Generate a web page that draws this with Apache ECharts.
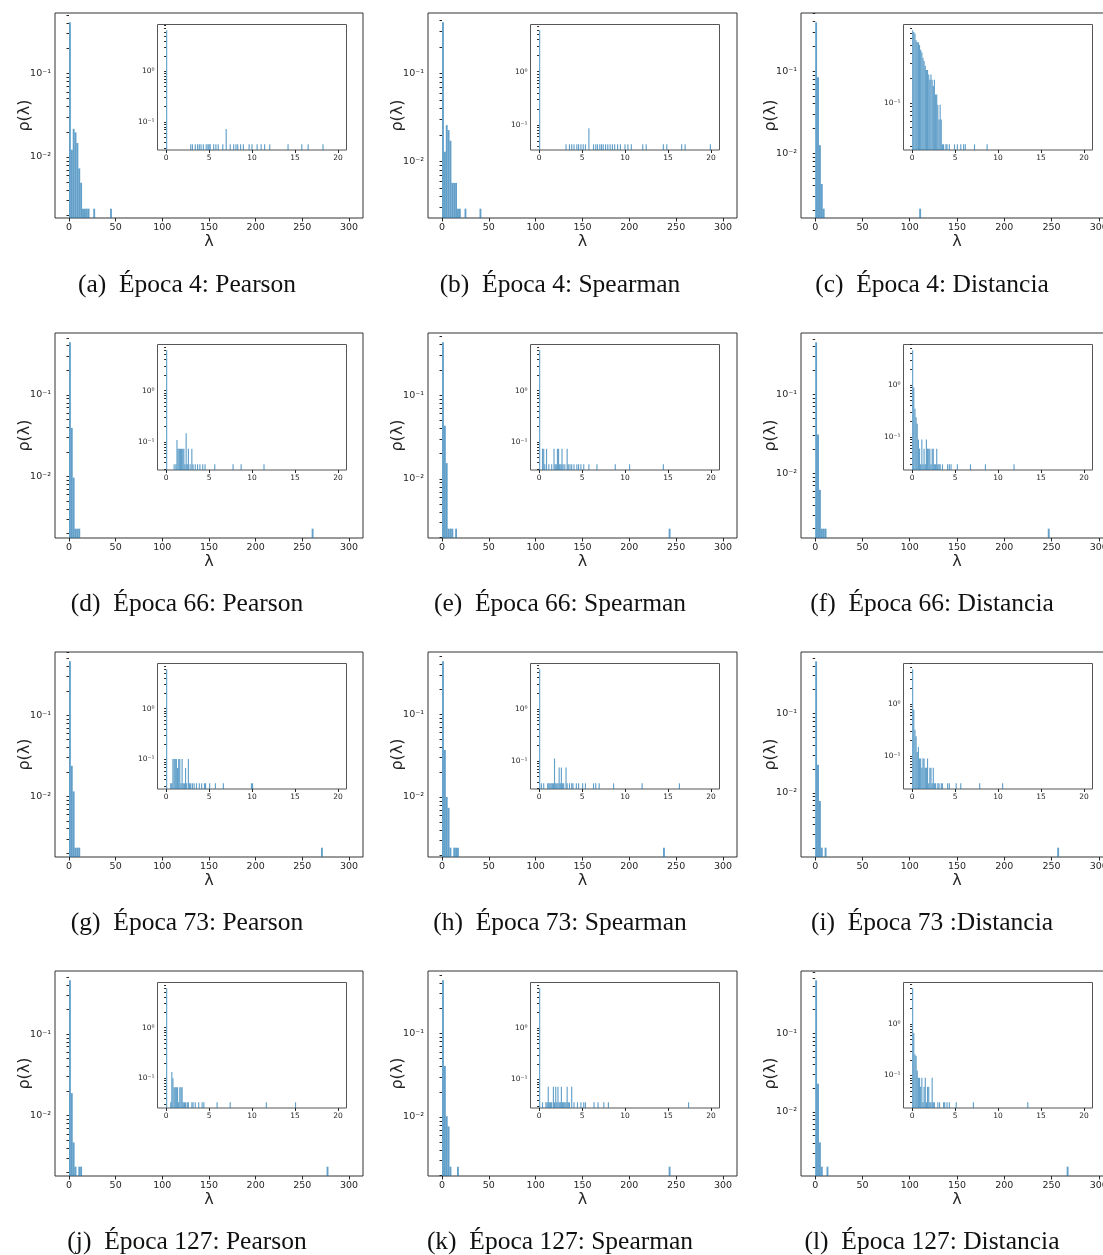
<!DOCTYPE html>
<html>
<head>
<meta charset="utf-8">
<script src="https://cdn.jsdelivr.net/npm/echarts@6/dist/echarts.min.js"></script>
<style>
  html, body { margin: 0; padding: 0; background: #fff; }
  #fig { width: 1103px; height: 1255px; }
</style>
</head>
<body>
<div id="fig"></div>
<script>
// tick labels
var mainTicks = [0, 50, 100, 150, 200, 250, 300];
var insetTicks = [0, 5, 10, 15, 20];

// main histograms: [bin start λ, ρ(λ)], bin width 2 on 0..300
var mainA = [[0,0.41],[2,0.0122],[4,0.0217],[6,0.0197],[8,0.0147],[10,0.0073],[12,0.0049],[14,0.0024],[16,0.0024],[18,0.0024],[20,0.0024],[26,0.0024],[44,0.0024]];
var mainB = [[0,0.383],[2,0.0129],[4,0.0259],[6,0.0227],[8,0.0172],[10,0.0057],[12,0.0057],[14,0.0057],[16,0.0029],[18,0.0029],[24,0.0029],[40,0.0029]];
var mainC = [[0,0.393],[2,0.0838],[4,0.0125],[6,0.0042],[8,0.0021],[110,0.0021]];
var mainD = [[0,0.44],[2,0.0394],[4,0.0097],[6,0.0023],[8,0.0023],[10,0.0023],[260,0.0023]];
var mainE = [[0,0.427],[2,0.0431],[4,0.0154],[6,0.00254],[8,0.00254],[10,0.00254],[14,0.00254],[242,0.00254]];
var mainF = [[0,0.455],[2,0.031],[4,0.0062],[6,0.002],[8,0.002],[10,0.002],[246,0.002]];
var mainG = [[0,0.462],[2,0.0238],[4,0.0115],[6,0.00233],[8,0.00233],[10,0.00233],[270,0.00233]];
var mainH = [[0,0.436],[2,0.037],[4,0.01],[6,0.0074],[8,0.00244],[12,0.00244],[14,0.00244],[16,0.00244],[236,0.00244]];
var mainI = [[0,0.455],[2,0.0226],[4,0.0079],[6,0.00204],[10,0.00204],[256,0.00204]];
var mainJ = [[0,0.456],[2,0.0189],[4,0.0047],[6,0.00237],[10,0.00237],[12,0.00237],[276,0.00237]];
var mainK = [[0,0.431],[2,0.0408],[4,0.0102],[6,0.0077],[8,0.00254],[16,0.00254],[242,0.00254]];
var mainL = [[0,0.473],[2,0.0229],[4,0.0041],[6,0.00201],[12,0.00201],[266,0.00201]];

// inset histograms: [bin start λ, ρ(λ)], bin width 20/150 on 0..20
var insetA = [[0,6.5],[2.8,0.036],[3.0,0.036],[3.33,0.036],[3.6,0.036],[3.8,0.036],[4.0,0.036],[4.27,0.036],[4.6,0.036],[4.8,0.036],[4.93,0.036],[5.07,0.036],[5.47,0.036],[5.73,0.036],[6.0,0.036],[6.53,0.036],[6.93,0.072],[7.4,0.036],[7.8,0.036],[8.07,0.036],[8.27,0.036],[8.6,0.036],[8.93,0.036],[9.6,0.036],[9.93,0.036],[10.53,0.036],[11.0,0.036],[11.4,0.036],[12.0,0.036],[14.13,0.036],[15.73,0.036],[16.47,0.036],[18.2,0.036]];
var insetB = [[0,6.0],[3.07,0.043],[3.47,0.043],[3.73,0.043],[4.0,0.043],[4.33,0.043],[4.53,0.043],[4.8,0.043],[5.07,0.043],[5.33,0.043],[5.73,0.086],[6.27,0.043],[6.53,0.043],[6.73,0.043],[7.0,0.043],[7.2,0.043],[7.4,0.043],[7.67,0.043],[7.93,0.043],[8.2,0.043],[8.47,0.043],[8.73,0.043],[9.07,0.043],[9.4,0.043],[9.93,0.043],[10.27,0.043],[10.67,0.043],[12.0,0.043],[12.4,0.043],[14.4,0.043],[14.8,0.043],[16.53,0.043],[16.93,0.043],[19.87,0.043]];
var insetC = [[0,0.756],[0.13,0.72],[0.27,0.69],[0.4,0.57],[0.53,0.54],[0.67,0.54],[0.8,0.5],[0.93,0.44],[1.07,0.41],[1.2,0.35],[1.33,0.32],[1.47,0.28],[1.6,0.25],[1.73,0.25],[1.87,0.22],[2.0,0.19],[2.13,0.22],[2.27,0.19],[2.4,0.16],[2.53,0.19],[2.67,0.126],[2.8,0.126],[2.93,0.0945],[3.07,0.063],[3.2,0.0945],[3.33,0.063],[3.47,0.0315],[3.6,0.0315],[3.87,0.0315],[4.0,0.0315],[4.27,0.0315],[4.87,0.0315],[5.2,0.0315],[5.6,0.0315],[5.93,0.0315],[6.13,0.0315],[7.2,0.0315],[8.67,0.0315]];
var insetD = [[0,6.1],[0.87,0.037],[1.07,0.037],[1.2,0.11],[1.33,0.074],[1.47,0.074],[1.6,0.074],[1.73,0.074],[1.87,0.074],[2.0,0.074],[2.13,0.037],[2.27,0.148],[2.4,0.037],[2.53,0.074],[2.73,0.037],[2.93,0.074],[3.07,0.037],[3.33,0.037],[3.6,0.037],[3.87,0.037],[4.2,0.037],[4.47,0.037],[5.6,0.037],[7.73,0.037],[8.67,0.037],[11.33,0.037]];
var insetE = [[0,6.1],[0.33,0.074],[0.47,0.074],[0.6,0.037],[0.8,0.074],[1.07,0.037],[1.4,0.037],[1.67,0.074],[1.8,0.037],[1.93,0.037],[2.07,0.074],[2.2,0.074],[2.33,0.037],[2.47,0.037],[2.6,0.074],[2.73,0.037],[2.93,0.037],[3.2,0.074],[3.33,0.037],[3.53,0.037],[3.73,0.037],[4.0,0.037],[4.33,0.037],[4.53,0.037],[4.8,0.037],[5.13,0.037],[5.73,0.037],[6.67,0.037],[8.8,0.037],[10.47,0.037],[14.4,0.037]];
var insetF = [[0,4.67],[0.13,0.9],[0.27,0.35],[0.4,0.24],[0.53,0.18],[0.67,0.09],[0.8,0.06],[0.93,0.03],[1.07,0.09],[1.2,0.03],[1.33,0.06],[1.47,0.03],[1.6,0.09],[1.73,0.06],[1.87,0.06],[2.0,0.06],[2.13,0.03],[2.27,0.06],[2.4,0.06],[2.53,0.03],[2.67,0.03],[2.8,0.06],[2.93,0.03],[3.07,0.03],[3.2,0.03],[3.47,0.03],[4.07,0.03],[4.27,0.03],[4.47,0.03],[5.2,0.03],[6.73,0.03],[8.47,0.03],[11.8,0.03]];
var insetG = [[0,6.0],[0.47,0.034],[0.6,0.034],[0.73,0.102],[0.87,0.102],[1.0,0.102],[1.13,0.102],[1.27,0.068],[1.4,0.102],[1.53,0.102],[1.67,0.034],[1.8,0.102],[1.93,0.034],[2.07,0.034],[2.2,0.068],[2.33,0.034],[2.53,0.102],[2.67,0.034],[2.8,0.034],[3.0,0.034],[3.2,0.034],[3.47,0.034],[3.8,0.034],[4.07,0.034],[4.4,0.034],[4.53,0.034],[5.0,0.034],[5.67,0.034],[6.6,0.034],[9.87,0.034],[10.0,0.034]];
var insetH = [[0,5.8],[0.2,0.0374],[0.47,0.0374],[0.93,0.0374],[1.07,0.0374],[1.2,0.0374],[1.33,0.0374],[1.47,0.0374],[1.6,0.0374],[1.73,0.112],[1.87,0.0374],[2.0,0.0374],[2.13,0.0374],[2.27,0.075],[2.4,0.0374],[2.53,0.075],[2.67,0.0374],[2.8,0.0374],[3.07,0.075],[3.2,0.0374],[3.47,0.0374],[3.73,0.0374],[3.87,0.0374],[4.27,0.0374],[4.53,0.0374],[5.0,0.0374],[5.33,0.0374],[6.27,0.0374],[6.53,0.0374],[6.93,0.0374],[8.6,0.0374],[11.93,0.0374],[16.27,0.0374]];
var insetI = [[0,4.67],[0.13,0.78],[0.27,0.32],[0.4,0.24],[0.53,0.12],[0.67,0.15],[0.8,0.09],[0.93,0.09],[1.07,0.06],[1.2,0.09],[1.33,0.09],[1.47,0.06],[1.6,0.06],[1.73,0.09],[1.87,0.03],[2.0,0.06],[2.13,0.06],[2.27,0.03],[2.4,0.06],[2.53,0.03],[2.67,0.03],[2.93,0.03],[3.07,0.03],[3.33,0.03],[3.47,0.03],[4.07,0.03],[4.27,0.03],[5.07,0.03],[5.6,0.03],[7.8,0.03],[10.47,0.03]];
var insetJ = [[0,6.1],[0.47,0.033],[0.6,0.132],[0.73,0.099],[0.87,0.066],[1.0,0.066],[1.13,0.066],[1.27,0.066],[1.4,0.033],[1.53,0.066],[1.67,0.066],[1.8,0.066],[1.93,0.033],[2.07,0.033],[2.2,0.033],[2.4,0.033],[2.53,0.033],[2.93,0.033],[3.07,0.033],[3.33,0.033],[3.73,0.033],[4.13,0.033],[4.33,0.033],[5.87,0.033],[7.4,0.033],[11.6,0.033],[15.0,0.033]];
var insetK = [[0,6.0],[0.33,0.036],[0.73,0.036],[0.87,0.036],[1.0,0.072],[1.13,0.036],[1.27,0.036],[1.4,0.036],[1.6,0.072],[1.73,0.036],[1.87,0.072],[2.0,0.036],[2.13,0.072],[2.27,0.036],[2.4,0.036],[2.53,0.072],[2.67,0.036],[2.8,0.036],[2.93,0.036],[3.07,0.036],[3.2,0.072],[3.33,0.036],[3.47,0.036],[3.73,0.072],[4.0,0.036],[4.4,0.036],[4.8,0.036],[5.13,0.036],[5.33,0.036],[6.33,0.036],[6.8,0.036],[7.47,0.036],[8.0,0.036],[17.33,0.036]];
var insetL = [[0,5.0],[0.13,0.67],[0.27,0.26],[0.4,0.24],[0.53,0.125],[0.67,0.09],[0.8,0.09],[0.93,0.06],[1.07,0.09],[1.2,0.03],[1.33,0.06],[1.47,0.09],[1.6,0.03],[1.73,0.06],[1.87,0.06],[2.0,0.03],[2.13,0.03],[2.27,0.09],[2.4,0.03],[2.53,0.03],[2.93,0.03],[3.13,0.03],[3.6,0.03],[3.73,0.03],[4.0,0.03],[4.27,0.03],[5.07,0.03],[7.07,0.03],[13.4,0.03]];

var captions = [
  '(a)  Época 4: Pearson', '(b)  Época 4: Spearman', '(c)  Época 4: Distancia',
  '(d)  Época 66: Pearson', '(e)  Época 66: Spearman', '(f)  Época 66: Distancia',
  '(g)  Época 73: Pearson', '(h)  Época 73: Spearman', '(i)  Época 73 :Distancia',
  '(j)  Época 127: Pearson', '(k)  Época 127: Spearman', '(l)  Época 127: Distancia'
];

var mains = [mainA, mainB, mainC, mainD, mainE, mainF, mainG, mainH, mainI, mainJ, mainK, mainL];
var insets = [insetA, insetB, insetC, insetD, insetE, insetF, insetG, insetH, insetI, insetJ, insetK, insetL];

var mainBin = 2, insetBin = 20 / 150;
var colLeft = [55, 428, 801];
var colWidth = [308, 309, 312];
var rowTop = [13, 333, 652, 971];
var capX = [187, 560, 932];
var capY = [285, 604, 923, 1242];
var barColor = 'rgba(31,119,180,0.7)';
var ink = '#262626';

var supMap = {'-': '\u207b', '0': '\u2070', '1': '\u00b9', '2': '\u00b2', '3': '\u00b3'};
function logLabel(v) {
  var e = String(Math.round(Math.log10(v)));
  return '10' + e.split('').map(function (c) { return supMap[c]; }).join('');
}

// log range with 5% padding in log space (like matplotlib)
function logRange(data) {
  var ys = data.map(function (d) { return Math.log10(d[1]); });
  var lo = Math.min.apply(null, ys), hi = Math.max.apply(null, ys);
  var pad = 0.05 * (hi - lo);
  return [Math.pow(10, lo - pad), Math.pow(10, hi + pad)];
}
function logTicks(r) {
  var all = [], major = [];
  for (var k = Math.floor(Math.log10(r[0])); k <= Math.ceil(Math.log10(r[1])); k++) {
    for (var m = 1; m < 10; m++) {
      var v = m * Math.pow(10, k);
      if (v >= r[0] && v <= r[1]) { all.push(v); if (m === 1) major.push(v); }
    }
  }
  return { all: all, major: major };
}

function hist(data, bin, floor, idx) {
  return {
    type: 'custom', xAxisIndex: idx, yAxisIndex: idx, data: data, silent: true,
    renderItem: function (params, api) {
      var a = api.coord([api.value(0), floor]);
      var b = api.coord([api.value(0) + bin, api.value(1)]);
      return { type: 'rect', shape: { x: a[0], y: b[1], width: b[0] - a[0], height: a[1] - b[1] }, style: { fill: barColor } };
    }
  };
}

var grids = [], xAxes = [], yAxes = [], series = [], texts = [];
for (var p = 0; p < 12; p++) {
  var col = p % 3, row = Math.floor(p / 3);
  var L = colLeft[col], T = rowTop[row];
  var gm = 2 * p, gi = 2 * p + 1;

  grids.push({ left: L, top: T, width: colWidth[col], height: 205, outerBoundsMode: 'none',
    show: true, borderColor: '#333', borderWidth: 1 });
  grids.push({ left: L + 102.5, top: T + 11.5, width: 189, height: 125.5, outerBoundsMode: 'none',
    show: true, borderColor: '#555', borderWidth: 1, backgroundColor: '#fff' });

  var rm = logRange(mains[p]), ri = logRange(insets[p]);
  var tm = logTicks(rm), ti = logTicks(ri);

  xAxes.push({
    gridIndex: gm, type: 'value', min: -15, max: 315,
    name: 'λ', nameLocation: 'middle', nameGap: 16, nameMoveOverlap: false,
    nameTextStyle: { fontSize: 16, color: ink, fontFamily: 'DejaVu Sans' },
    axisLine: { show: false }, splitLine: { show: false },
    axisTick: { customValues: mainTicks, length: 3.5, lineStyle: { color: ink } },
    axisLabel: { customValues: mainTicks, fontSize: 9.5, color: ink, margin: 5, fontFamily: 'DejaVu Sans' }
  });
  xAxes.push({
    gridIndex: gi, type: 'value', min: -1, max: 21,
    axisLine: { show: false }, splitLine: { show: false },
    axisTick: { customValues: insetTicks, length: 3, lineStyle: { color: ink } },
    axisLabel: { customValues: insetTicks, fontSize: 7.5, color: ink, margin: 4, fontFamily: 'DejaVu Sans' }
  });
  yAxes.push({
    gridIndex: gm, type: 'log', logBase: 10, min: rm[0], max: rm[1],
    name: 'ρ(λ)', nameLocation: 'middle', nameGap: 22, nameMoveOverlap: false,
    nameTextStyle: { fontSize: 16, color: ink, fontFamily: 'DejaVu Sans' },
    axisLine: { show: false }, splitLine: { show: false },
    axisTick: { customValues: tm.all, length: 2.5, lineStyle: { color: ink } },
    axisLabel: { customValues: tm.major, formatter: logLabel, fontSize: 9.5, color: ink, margin: 4, fontFamily: 'DejaVu Sans' }
  });
  yAxes.push({
    gridIndex: gi, type: 'log', logBase: 10, min: ri[0], max: ri[1],
    axisLine: { show: false }, splitLine: { show: false },
    axisTick: { customValues: ti.all, length: 2, lineStyle: { color: ink } },
    axisLabel: { customValues: ti.major, formatter: logLabel, fontSize: 7.5, color: ink, margin: 3, fontFamily: 'DejaVu Sans' }
  });

  series.push(hist(mains[p], mainBin, rm[0], gm));
  series.push(hist(insets[p], insetBin, ri[0], gi));

  texts.push({
    type: 'text', x: capX[col], y: capY[row],
    style: { text: captions[p], fontSize: 25.5, fontFamily: 'Liberation Serif', fill: '#111', align: 'center', verticalAlign: 'middle' }
  });
}

var chart = echarts.init(document.getElementById('fig'));
chart.setOption({
  animation: false,
  backgroundColor: '#fff',
  grid: grids,
  xAxis: xAxes,
  yAxis: yAxes,
  series: series,
  graphic: texts
});
</script>
</body>
</html>
